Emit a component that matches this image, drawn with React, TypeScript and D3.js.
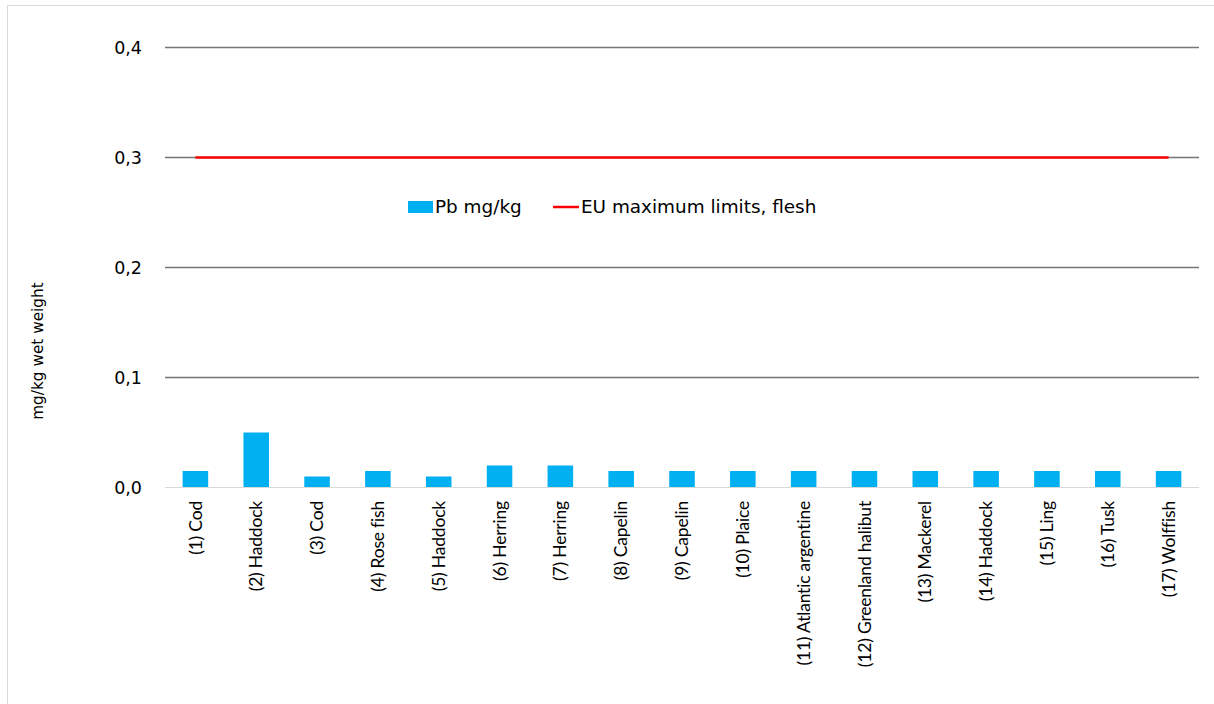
import React, { useRef, useEffect } from 'react';
import * as d3 from 'd3';

const categories = [
  '(1) Cod', '(2) Haddock', '(3) Cod', '(4) Rose fish', '(5) Haddock', '(6) Herring',
  '(7) Herring', '(8) Capelin', '(9) Capelin', '(10) Plaice', '(11) Atlantic argentine',
  '(12) Greenland halibut', '(13) Mackerel', '(14) Haddock', '(15) Ling', '(16) Tusk', '(17) Wolffish',
];
const pbValues = [0.015, 0.05, 0.01, 0.015, 0.01, 0.02, 0.02, 0.015, 0.015, 0.015, 0.015, 0.015, 0.015, 0.015, 0.015, 0.015, 0.015];
const euLimit = [0.3, 0.3, 0.3, 0.3, 0.3, 0.3, 0.3, 0.3, 0.3, 0.3, 0.3, 0.3, 0.3, 0.3, 0.3, 0.3, 0.3];
const yTicks = [0, 0.1, 0.2, 0.3, 0.4];

const App: React.FC = () => {
  const svgRef = useRef<SVGSVGElement>(null);

  useEffect(() => {
    const svg = d3.select(svgRef.current);
    const width = 1214;
    const height = 704;
    svg.selectAll('*').remove();
    svg.attr('width', width).attr('height', height);

    // chart border
    svg.append('rect')
      .attr('x', 7.5).attr('y', 5.5)
      .attr('width', 1400).attr('height', 1000)
      .attr('fill', 'white')
      .attr('stroke', '#d9d9d9');

    const left = 165;
    const right = 1199;
    const x = d3.scaleBand<string>().domain(categories).range([left, right]).paddingInner(0.58).paddingOuter(0.29);
    const xc = (c: string) => (x(c) as number) + x.bandwidth() / 2;
    const y = d3.scaleLinear().domain([0, 0.4]).range([487.5, 47.5]);

    const fmt = (v: number) => d3.format('.1f')(v).replace('.', ',');

    // gridlines
    svg.append('g')
      .selectAll('line')
      .data(yTicks.filter((t) => t > 0))
      .enter()
      .append('line')
      .attr('x1', left).attr('x2', right)
      .attr('y1', (d) => y(d)).attr('y2', (d) => y(d))
      .attr('stroke', '#767676')
      .attr('stroke-width', 1.6);

    svg.append('g')
      .selectAll('text')
      .data(yTicks)
      .enter()
      .append('text')
      .attr('x', 142)
      .attr('y', (d) => y(d))
      .attr('dy', '0.35em')
      .attr('text-anchor', 'end')
      .attr('font-family', 'DejaVu Sans')
      .attr('font-size', 17.5)
      .attr('fill', '#000')
      .text((d) => fmt(d));

    // bars
    svg.append('g')
      .selectAll('rect')
      .data(pbValues)
      .enter()
      .append('rect')
      .attr('x', (_, i) => x(categories[i]) as number)
      .attr('width', x.bandwidth())
      .attr('y', (d) => y(d))
      .attr('height', (d) => y(0) - y(d))
      .attr('fill', '#00b0f0');

    // zero axis
    svg.append('line')
      .attr('x1', left).attr('x2', right)
      .attr('y1', y(0)).attr('y2', y(0))
      .attr('stroke', '#d9d9d9')
      .attr('stroke-width', 1);

    // EU limit line
    const line = d3.line<number>()
      .x((_, i) => xc(categories[i]))
      .y((d) => y(d));
    svg.append('path')
      .datum(euLimit)
      .attr('d', line)
      .attr('fill', 'none')
      .attr('stroke', '#ff0000')
      .attr('stroke-width', 2.5);

    // category labels
    svg.append('g')
      .selectAll('text')
      .data(categories)
      .enter()
      .append('text')
      .attr('transform', (d) => `translate(${xc(d)},501) rotate(-90)`)
      .attr('dy', '0.35em')
      .attr('text-anchor', 'end')
      .attr('font-family', 'Lato')
      .attr('font-size', 17.5)
      .attr('letter-spacing', -0.2)
      .attr('fill', '#000')
      .text((d) => d);

    // y axis title
    svg.append('text')
      .attr('transform', 'translate(38,351) rotate(-90)')
      .attr('dy', '0.35em')
      .attr('text-anchor', 'middle')
      .attr('font-family', 'DejaVu Sans')
      .attr('font-size', 15.3)
      .attr('fill', '#000')
      .text('mg/kg wet weight');

    // legend
    const lg = svg.append('g').attr('font-family', 'DejaVu Sans').attr('font-size', 18.4).attr('fill', '#000');
    lg.append('rect').attr('x', 408).attr('y', 201).attr('width', 25).attr('height', 12).attr('fill', '#00b0f0');
    lg.append('text').attr('x', 435).attr('y', 207).attr('dy', '0.35em').text('Pb mg/kg');
    lg.append('line').attr('x1', 553).attr('x2', 579).attr('y1', 207).attr('y2', 207)
      .attr('stroke', '#ff0000').attr('stroke-width', 2.5);
    lg.append('text').attr('x', 581).attr('y', 207).attr('dy', '0.35em').text('EU maximum limits, flesh');
  }, []);

  return <svg ref={svgRef} style={{ position: 'absolute', left: 0, top: 0 }} />;
};

export default App;
